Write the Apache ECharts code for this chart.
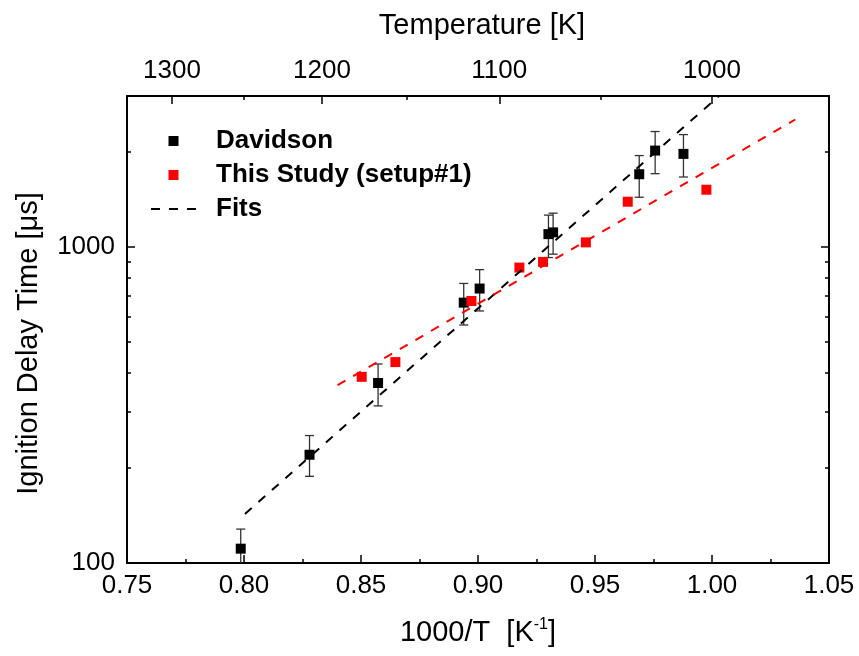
<!DOCTYPE html>
<html>
<head>
<meta charset="utf-8">
<script src="https://cdn.jsdelivr.net/npm/echarts@6.0.0/dist/echarts.min.js"></script>
<style>
    html, body { margin: 0; padding: 0; background: #fff; }
    #main { width: 859px; height: 656px; }
</style>
</head>
<body>
<div id="main"></div>
<script>
    // Davidson: 1000/T, ignition delay [us], error bar low / high
    var davX = [0.7986, 0.828, 0.8573, 0.8939, 0.9007, 0.9301, 0.9321, 0.9689, 0.9757, 0.9878];
    var davY = [111, 220, 371, 666, 738, 1097, 1111, 1697, 2016, 1968];
    var davLo = [96, 188, 314, 566, 627, 925, 948, 1435, 1704, 1663];
    var davHi = [128, 253, 426, 766, 847, 1260, 1278, 1944, 2316, 2265];

    // This Study (setup#1)
    var studyX = [0.8503, 0.8647, 0.8972, 0.9177, 0.9278, 0.9461, 0.9640, 0.9976];
    var studyY = [388, 432, 674, 860, 896, 1033, 1389, 1516];

    // fit lines (end points)
    var fitDavX = [0.8004, 1.003];
    var fitDavY = [143, 3000];
    var fitStudyX = [0.8400, 1.0356];
    var fitStudyY = [365, 2528];

    // tick labels
    var tempMajor = [1300, 1200, 1100, 1000];
    var tempMinor = [1250, 1150, 1050];
    var yMajor = [100, 1000];
    var yMinor = [200, 300, 400, 500, 600, 700, 800, 900, 2000];

    var font = "'Liberation Sans', Arial, sans-serif";
    var log10 = function (v) { return Math.log(v) / Math.LN10; };

    function pairs(xs, ys) {
        return xs.map(function (x, i) { return [x, ys[i]]; });
    }

    var errData = davX.map(function (x, i) { return [x, davLo[i], davHi[i]]; });

    var myChart = echarts.init(document.getElementById('main'));

    // helper for the extra tick-only axes
    function tickAxis(pos, vals, len, showLabel, fmt) {
        return {
            type: 'value',
            position: pos,
            min: pos === 'left' || pos === 'right' ? 2 : 0.75,
            max: pos === 'left' || pos === 'right' ? log10(3000) : 1.05,
            axisLine: {show: false},
            splitLine: {show: false},
            axisTick: {
                show: true, inside: true, length: len, customValues: vals,
                lineStyle: {color: '#000', width: 1.5}
            },
            axisLabel: {
                show: showLabel, customValues: vals, formatter: fmt,
                color: '#000', fontFamily: font, fontSize: 26, margin: 12
            }
        };
    }

    var squareIcon = 'path://M0,0L10,0L10,10L0,10Z';

    var option = {
        backgroundColor: '#fff',
        animation: false,
        grid: {
            left: 127,
            right: 30,
            top: 96,
            bottom: 93,
            outerBoundsMode: 'none'
        },
        legend: {
            orient: 'vertical',
            left: 150,
            top: 128,
            padding: 0,
            itemWidth: 45,
            itemHeight: 10,
            itemGap: 8,
            symbolKeepAspect: true,
            data: [
                {name: 'Davidson', icon: squareIcon},
                {name: 'This Study (setup#1)', icon: squareIcon},
                {name: 'Fits', itemStyle: {color: 'transparent', borderColor: 'transparent', borderWidth: 0, opacity: 0}}
            ],
            textStyle: {
                fontFamily: font, fontSize: 26, fontWeight: 'bold', color: '#000',
                lineHeight: 25, padding: [0, 0, 0, 15]
            }
        },
        xAxis: [
            {
                type: 'value',
                position: 'bottom',
                min: 0.75,
                max: 1.05,
                interval: 0.05,
                name: '1000/T  [K{sup|-1}]',
                nameLocation: 'middle',
                nameGap: 54,
                nameTextStyle: {
                    fontFamily: font, fontSize: 29, color: '#000',
                    rich: {sup: {fontFamily: font, fontSize: 16, color: '#000', padding: [0, 0, 15, 0]}}
                },
                axisLine: {lineStyle: {color: '#000', width: 2}},
                axisTick: {inside: true, length: 8, lineStyle: {color: '#000', width: 1.5}},
                minorTick: {show: true, splitNumber: 2, length: 4, lineStyle: {color: '#000', width: 1.5}},
                splitLine: {show: false},
                axisLabel: {
                    color: '#000', fontFamily: font, fontSize: 26, margin: 10,
                    formatter: function (v) { return v.toFixed(2); }
                }
            },
            {
                type: 'value',
                position: 'top',
                min: 0.75,
                max: 1.05,
                name: 'Temperature [K]',
                nameLocation: 'middle',
                nameGap: 56,
                nameTextStyle: {fontFamily: font, fontSize: 29, color: '#000', padding: [0, 0, 0, 8]},
                axisLine: {show: true, lineStyle: {color: '#000', width: 2}},
                splitLine: {show: false},
                axisTick: {
                    inside: true, length: 8, lineStyle: {color: '#000', width: 1.5},
                    customValues: tempMajor.map(function (t) { return 1000 / t; })
                },
                axisLabel: {
                    color: '#000', fontFamily: font, fontSize: 26, margin: 12,
                    customValues: tempMajor.map(function (t) { return 1000 / t; }),
                    formatter: function (v) { return Math.round(1000 / v); }
                }
            },
            tickAxis('top', tempMinor.map(function (t) { return 1000 / t; }), 4, false)
        ],
        yAxis: [
            {
                type: 'log',
                logBase: 10,
                position: 'left',
                min: 100,
                max: 3000,
                name: 'Ignition Delay Time [\u03bcs]',
                nameLocation: 'middle',
                nameGap: 84,
                nameTextStyle: {fontFamily: font, fontSize: 29, color: '#000', padding: [0, 28, 0, 0]},
                axisLine: {show: true, lineStyle: {color: '#000', width: 2}},
                axisTick: {show: false},
                axisLabel: {show: false},
                splitLine: {show: false},
                minorTick: {show: false}
            },
            tickAxis('left', yMajor.map(log10), 8, true, function (v) { return Math.round(Math.pow(10, v)); }),
            tickAxis('left', yMinor.map(log10), 4, false),
            (function () {
                var a = tickAxis('right', yMajor.map(log10), 8, false);
                a.axisLine = {show: true, lineStyle: {color: '#000', width: 2}};
                return a;
            })(),
            tickAxis('right', yMinor.map(log10), 4, false)
        ],
        series: [
            {
                name: 'errDavidson',
                type: 'custom',
                xAxisIndex: 0,
                yAxisIndex: 0,
                clip: true,
                z: 2,
                data: errData,
                encode: {x: 0, y: [1, 2]},
                renderItem: function (params, api) {
                    var x = api.value(0);
                    var lo = api.coord([x, api.value(1)]);
                    var hi = api.coord([x, api.value(2)]);
                    var w = 4.5;
                    var st = {stroke: '#333', lineWidth: 1.3};
                    return {
                        type: 'group',
                        children: [
                            {type: 'line', shape: {x1: lo[0], y1: lo[1], x2: hi[0], y2: hi[1]}, style: st},
                            {type: 'line', shape: {x1: lo[0] - w, y1: lo[1], x2: lo[0] + w, y2: lo[1]}, style: st},
                            {type: 'line', shape: {x1: hi[0] - w, y1: hi[1], x2: hi[0] + w, y2: hi[1]}, style: st}
                        ]
                    };
                }
            },
            {
                name: 'Davidson',
                type: 'scatter',
                symbol: 'rect',
                symbolSize: 10,
                z: 3,
                itemStyle: {color: '#000', opacity: 1},
                data: pairs(davX, davY)
            },
            {
                name: 'This Study (setup#1)',
                type: 'scatter',
                symbol: 'rect',
                symbolSize: 10,
                z: 3,
                itemStyle: {color: '#ff0000', opacity: 1},
                data: pairs(studyX, studyY)
            },
            {
                name: 'Fits',
                type: 'line',
                symbol: 'none',
                z: 4,
                lineStyle: {color: '#000', width: 2, type: [9, 9]},
                itemStyle: {color: '#000'},
                data: pairs(fitDavX, fitDavY)
            },
            {
                name: 'Fit study',
                type: 'line',
                symbol: 'none',
                z: 4,
                lineStyle: {color: '#ff0000', width: 2, type: [9, 9]},
                itemStyle: {color: '#ff0000'},
                data: pairs(fitStudyX, fitStudyY)
            }
        ]
    };

    myChart.setOption(option);
</script>
</body>
</html>
